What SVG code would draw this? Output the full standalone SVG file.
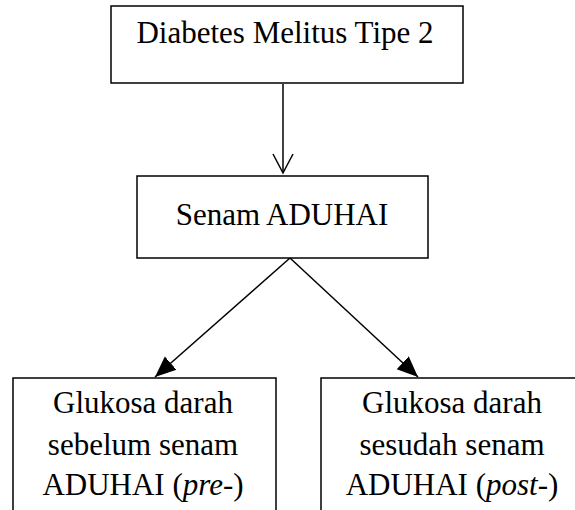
<svg xmlns="http://www.w3.org/2000/svg" width="575" height="510" viewBox="0 0 575 510">
<defs>
<marker id="open" markerUnits="userSpaceOnUse" markerWidth="24" markerHeight="24" refX="20" refY="10" orient="auto" viewBox="0 0 24 20">
<path d="M1,0 L20,10 L1,20" fill="none" stroke="#000" stroke-width="1.5"/>
</marker>
<marker id="solid" markerUnits="userSpaceOnUse" markerWidth="22" markerHeight="22" refX="19" refY="8" orient="auto" viewBox="0 0 20 16">
<path d="M0,0 L19,8 L0,16 Z" fill="#000"/>
</marker>
</defs>
<style>
.box{fill:#fff;stroke:#000;stroke-width:1.5}
.t{font-family:"Liberation Serif","Times New Roman",serif;font-size:31px;fill:#000;text-anchor:middle}
.c{stroke:#000;stroke-width:1.5;fill:none}
</style>
<rect width="575" height="510" fill="#fff"/>
<g id="connectors">
<line class="c" x1="283" y1="84" x2="283" y2="173" marker-end="url(#open)"/>
<line class="c" x1="290" y1="258" x2="155" y2="377" marker-end="url(#solid)"/>
<line class="c" x1="290" y1="258" x2="418" y2="377" marker-end="url(#solid)"/>
</g>
<g id="node-dm">
<rect class="box" x="111" y="6" width="352" height="77"/>
<text class="t" x="285" y="43">Diabetes Melitus Tipe 2</text>
</g>
<g id="node-senam">
<rect class="box" x="137" y="176" width="291" height="82"/>
<text class="t" x="282" y="225">Senam ADUHAI</text>
</g>
<g id="node-pre">
<rect class="box" x="13" y="378" width="263" height="140"/>
<text class="t" x="143" y="413">Glukosa darah</text>
<text class="t" x="143" y="455">sebelum  senam</text>
<text class="t" x="143" y="495">ADUHAI (<tspan font-style="italic">pre</tspan>-)</text>
</g>
<g id="node-post">
<rect class="box" x="321" y="378" width="270" height="140"/>
<text class="t" x="452" y="413">Glukosa darah</text>
<text class="t" x="452" y="455">sesudah senam</text>
<text class="t" x="452" y="495">ADUHAI (<tspan font-style="italic">post</tspan>-)</text>
</g>
</svg>
